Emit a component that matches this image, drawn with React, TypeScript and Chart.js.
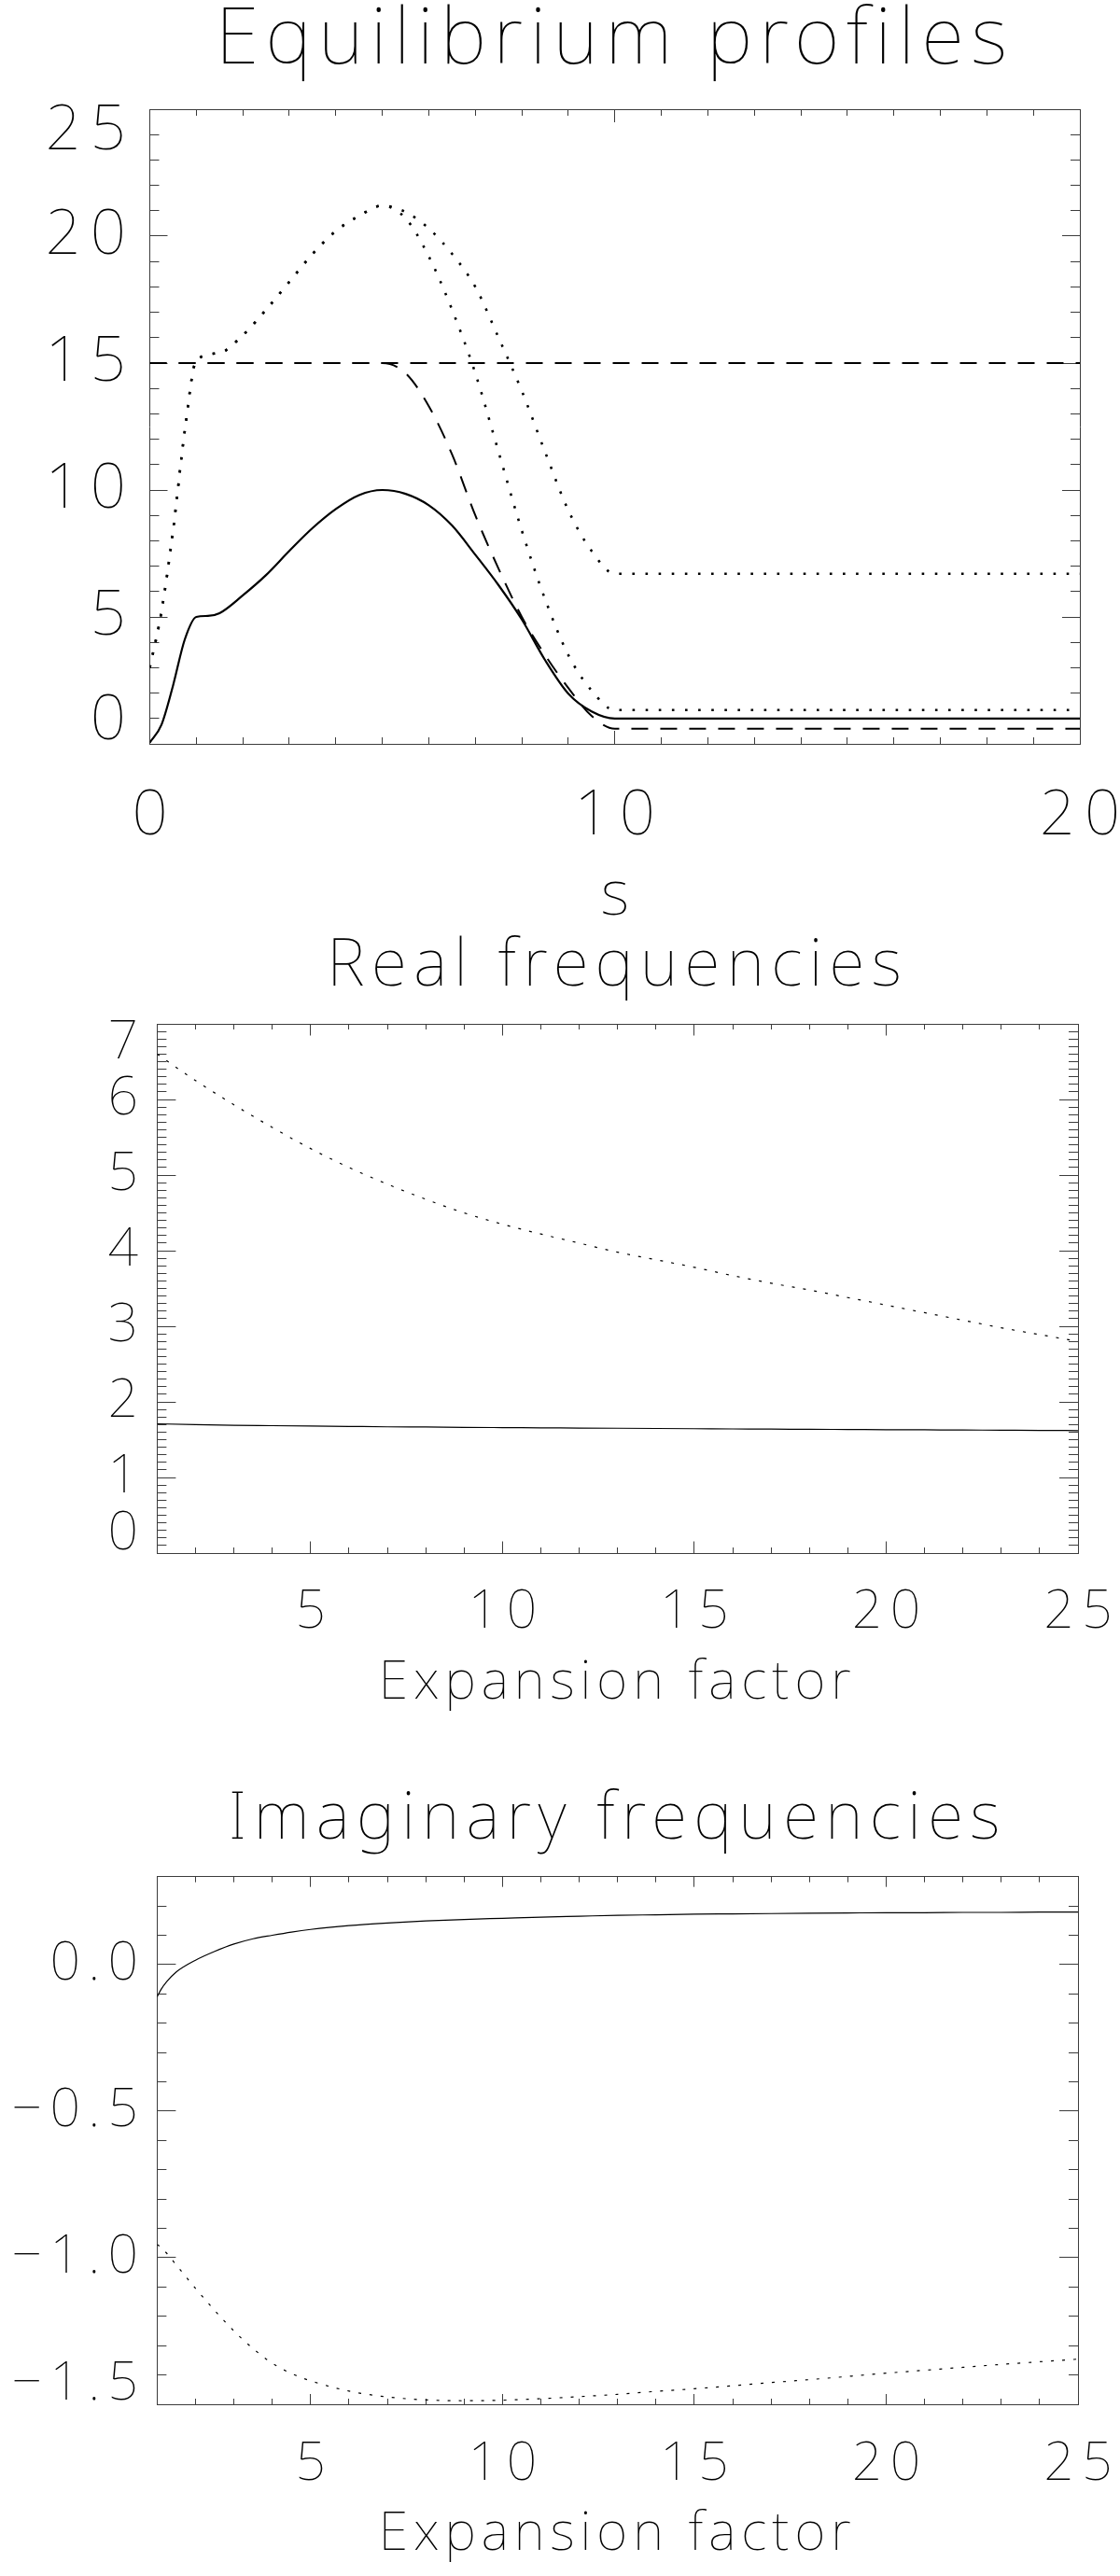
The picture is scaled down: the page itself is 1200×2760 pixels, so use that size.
import React, { useEffect, useRef } from "react";
import { Chart, registerables } from "chart.js";

Chart.register(...registerables);

const FAMILY = "'Noto Sans', Roboto, sans-serif";
const TEXT_WEIGHT = 100;
const FRAME = "#3c3c3c";
const INK = "#000000";

// ---------- Panel 1: Equilibrium profiles ----------
const eqTitle = "Equilibrium profiles";
const eqXTitle = "s";
const eqXTicks = [0, 10, 20];
const eqYTicks = [0, 5, 10, 15, 20, 25];
const eqS = [0, 0.25, 0.5, 0.75, 1, 1.25, 1.5, 2, 2.5, 3, 3.5, 4, 4.5, 5, 5.5, 6, 6.5, 7, 7.5, 8, 8.5, 9, 9.5, 10, 20];
const eqSolid = [0.05, 0.75, 2.3, 4.1, 5.0, 5.04, 5.15, 5.85, 6.65, 7.6, 8.5, 9.25, 9.8, 10.0, 9.85, 9.4, 8.6, 7.45, 6.25, 4.9, 3.3, 1.98, 1.28, 1.0, 1.0];
const eqFlatS = [0, 20];
const eqFlat = [15, 15];
const eqDashS = [0, 5, 5.5, 6, 6.5, 7, 7.5, 8, 8.5, 9, 9.5, 10, 20];
const eqDash = [15, 15, 14.6, 13.3, 11.4, 9.0, 6.9, 5.0, 3.5, 2.2, 1.1, 0.6, 0.6];
const eqDotS = [0, 0.25, 0.5, 0.75, 1, 1.5, 2, 2.5, 3, 3.5, 4, 4.5, 5, 5.5, 6, 6.5, 7, 7.5, 8, 8.5, 9, 9.5, 10, 20];
const eqDotOuter = [3.0, 5.2, 8.4, 12.3, 15.1, 15.4, 16.1, 17.1, 18.2, 19.3, 20.2, 20.8, 21.2, 20.95, 20.3, 19.3, 18.0, 16.0, 13.9, 11.5, 9.2, 7.6, 6.7, 6.7];
const eqDotInner = [3.0, 5.2, 8.4, 12.3, 15.1, 15.4, 16.1, 17.1, 18.2, 19.3, 20.2, 20.8, 21.2, 20.7, 19.2, 17.1, 14.6, 11.5, 8.4, 5.7, 3.5, 2.1, 1.33, 1.33];

// ---------- Panel 2: Real frequencies ----------
const reTitle = "Real frequencies";
const expTitle = "Expansion factor";
const expXTicks = [5, 10, 15, 20, 25];
const reYTicks = [0, 1, 2, 3, 4, 5, 6, 7];
const reX = [1, 2, 3, 4, 5, 6, 7, 8, 9, 10, 11, 12, 13, 14, 15, 16, 17, 18, 19, 20, 21, 22, 23, 24, 25];
const reSolid = [1.71, 1.7, 1.69, 1.685, 1.68, 1.675, 1.67, 1.667, 1.663, 1.66, 1.657, 1.654, 1.651, 1.648, 1.645, 1.642, 1.64, 1.637, 1.635, 1.632, 1.63, 1.628, 1.625, 1.623, 1.62];
const reDotted = [6.6, 6.25, 5.93, 5.63, 5.35, 5.1, 4.88, 4.68, 4.5, 4.35, 4.22, 4.1, 3.98, 3.88, 3.78, 3.67, 3.57, 3.48, 3.38, 3.28, 3.18, 3.08, 2.98, 2.89, 2.8];

// ---------- Panel 3: Imaginary frequencies ----------
const imTitle = "Imaginary frequencies";
const imYTicks = [-1.5, -1.0, -0.5, 0.0];
const imX = [1, 1.1, 1.25, 1.5, 2, 2.5, 3, 3.5, 4, 4.5, 5, 6, 7, 8, 9, 10, 11, 12, 13, 14, 15, 16, 17, 18, 19, 20, 21, 22, 23, 24, 25];
const imSolid = [-0.11, -0.085, -0.058, -0.025, 0.015, 0.045, 0.07, 0.088, 0.1, 0.111, 0.12, 0.133, 0.142, 0.149, 0.154, 0.158, 0.162, 0.165, 0.168, 0.17, 0.172, 0.173, 0.174, 0.175, 0.176, 0.177, 0.177, 0.178, 0.178, 0.179, 0.179];
const imDotted = [-0.955, -0.965, -0.985, -1.025, -1.105, -1.18, -1.25, -1.31, -1.36, -1.395, -1.42, -1.455, -1.475, -1.485, -1.488, -1.486, -1.481, -1.474, -1.466, -1.456, -1.447, -1.437, -1.426, -1.416, -1.405, -1.394, -1.384, -1.374, -1.364, -1.355, -1.346];

const pts = (xs: number[], ys: number[]) => xs.map((x, i) => ({ x, y: ys[i] }));
const near = (a: number, b: number) => Math.abs(a - b) < 1e-6;
const fmtInt = (v: number) => String(Math.round(v));
const fmtOne = (v: number) => {
  if (Math.abs(v) < 1e-9) return "0.0";
  const s = Math.abs(v).toFixed(1);
  return v < 0 ? "\u2212" + s : s;
};

function line(xs: number[], ys: number[], width: number, dash: number[] = []) {
  return {
    data: pts(xs, ys),
    borderColor: INK,
    borderWidth: width,
    borderDash: dash,
    borderCapStyle: "butt",
    pointRadius: 0,
    pointHoverRadius: 0,
    fill: false,
    cubicInterpolationMode: "monotone",
  };
}

type AxisOpts = {
  min: number; max: number; ticks: number[]; minor: number;
  tickMajor: number; tickMinor: number;
  labelSize: number; labelPad: number; area: number;
  fmt: (v: number) => string;
};
type PanelOpts = {
  height: number;
  rightPad: number;
  spacing: { title: number; ticks: number; axisTitle: number };
  title: { text: string; size: number; padTop: number; padBottom: number };
  xTitle: { text: string; size: number; padBottom: number };
  x: AxisOpts;
  y: AxisOpts & { lineHeight: number };
  datasets: any[];
};

// Widens the letter spacing of the library-drawn texts (titles, tick labels, axis titles).
function spacingPlugin(sp: PanelOpts["spacing"]) {
  const wrap = (obj: any, key: string, px: number, ctx: any) => {
    const orig = obj[key].bind(obj);
    obj[key] = (...args: any[]) => {
      const prev = ctx.letterSpacing;
      ctx.letterSpacing = `${px}px`;
      orig(...args);
      ctx.letterSpacing = prev || "0px";
    };
  };
  return {
    id: "letterSpacing",
    beforeDraw(chart: any) {
      const ctx = chart.ctx;
      Object.values(chart.scales).forEach((s: any) => {
        if (s.__spaced) return;
        wrap(s, "drawLabels", sp.ticks, ctx);
        wrap(s, "drawTitle", sp.axisTitle, ctx);
        s.__spaced = true;
      });
      const tb = chart.titleBlock;
      if (tb && !tb.__spaced) {
        wrap(tb, "draw", sp.title, ctx);
        tb.__spaced = true;
      }
    },
  };
}

function buildConfig(p: PanelOpts): any {
  const zero = (s: any) => { s.paddingLeft = 0; s.paddingRight = 0; s.paddingTop = 0; s.paddingBottom = 0; };
  const grid = (len: number) => ({ display: true, drawOnChartArea: false, drawTicks: true, tickLength: -len, color: FRAME, lineWidth: 1 });
  const frame = { display: true, color: FRAME, width: 1 };
  const noBorder = { display: false };
  const font = (size: number, lh = 1) => ({ family: FAMILY, size, weight: TEXT_WEIGHT, lineHeight: lh });
  const xb = { type: "linear", min: p.x.min, max: p.x.max, bounds: "data" };
  const yb = { type: "linear", min: p.y.min, max: p.y.max, bounds: "data" };
  const setTicks = (arr: number[]) => (s: any) => { s.ticks = arr.map((value) => ({ value })); };
  const hiddenTicks = (step: number) => ({ display: false, stepSize: step, includeBounds: false, autoSkip: false });
  const hiddenMajor = { display: false, autoSkip: false };
  return {
    type: "line",
    data: { datasets: p.datasets },
    plugins: [spacingPlugin(p.spacing)],
    options: {
      responsive: false,
      maintainAspectRatio: false,
      animation: false,
      devicePixelRatio: 1,
      events: [],
      layout: { padding: { left: 0, top: 0, right: p.rightPad, bottom: 0 } },
      plugins: {
        legend: { display: false },
        tooltip: { enabled: false },
        title: {
          display: true,
          fullSize: false,
          text: p.title.text,
          color: INK,
          font: font(p.title.size),
          padding: { top: p.title.padTop, bottom: p.title.padBottom },
        },
      },
      scales: {
        x: {
          ...xb, position: "bottom", weight: 1,
          afterBuildTicks: setTicks(p.x.ticks),
          ticks: {
            autoSkip: false, maxRotation: 0, minRotation: 0,
            padding: p.x.labelPad, labelOffset: p.spacing.ticks / 2, color: INK, font: font(p.x.labelSize),
            callback: (v: number) => p.x.fmt(v),
          },
          grid: grid(p.x.tickMajor), border: frame,
          title: { display: true, text: p.xTitle.text, color: INK, font: font(p.xTitle.size), padding: { top: 0, bottom: p.xTitle.padBottom } },
          afterFit: (s: any) => { s.height = p.x.area; zero(s); },
        },
        xMinor: {
          ...xb, position: "bottom", weight: 0,
          ticks: hiddenTicks(p.x.minor), grid: grid(p.x.tickMinor), border: noBorder,
          afterFit: (s: any) => { s.height = 0; zero(s); },
        },
        xTop: {
          ...xb, position: "top", weight: 0,
          afterBuildTicks: setTicks(p.x.ticks),
          ticks: hiddenMajor, grid: grid(p.x.tickMajor), border: frame,
          afterFit: (s: any) => { s.height = 0; zero(s); },
        },
        xTopMinor: {
          ...xb, position: "top", weight: 0,
          ticks: hiddenTicks(p.x.minor), grid: grid(p.x.tickMinor), border: noBorder,
          afterFit: (s: any) => { s.height = 0; zero(s); },
        },
        y: {
          ...yb, position: "left", weight: 1,
          afterBuildTicks: setTicks(p.y.ticks),
          ticks: {
            autoSkip: false,
            padding: p.y.labelPad, color: INK, font: font(p.y.labelSize, p.y.lineHeight),
            callback: (v: number) => {
              const s = p.y.fmt(v);
              if (near(v, p.y.max)) return ["", s];
              if (near(v, p.y.min)) return [s, ""];
              return s;
            },
          },
          grid: grid(p.y.tickMajor), border: frame,
          afterFit: (s: any) => { s.width = p.y.area; zero(s); },
        },
        yMinor: {
          ...yb, position: "left", weight: 0,
          ticks: hiddenTicks(p.y.minor), grid: grid(p.y.tickMinor), border: noBorder,
          afterFit: (s: any) => { s.width = 0; zero(s); },
        },
        yRight: {
          ...yb, position: "right", weight: 0,
          afterBuildTicks: setTicks(p.y.ticks),
          ticks: hiddenMajor, grid: grid(p.y.tickMajor), border: frame,
          afterFit: (s: any) => { s.width = 0; zero(s); },
        },
        yRightMinor: {
          ...yb, position: "right", weight: 0,
          ticks: hiddenTicks(p.y.minor), grid: grid(p.y.tickMinor), border: noBorder,
          afterFit: (s: any) => { s.width = 0; zero(s); },
        },
      },
    },
  };
}

const panel1 = (): PanelOpts => ({
  height: 1000,
  rightPad: 43,
  spacing: { title: 7.6, ticks: 10, axisTitle: 0 },
  title: { text: eqTitle, size: 84, padTop: 2.4, padBottom: 30.6 },
  xTitle: { text: eqXTitle, size: 66, padBottom: 5.6 },
  x: { min: 0, max: 20, ticks: eqXTicks, minor: 1, tickMajor: 14, tickMinor: 7, labelSize: 67, labelPad: 58.5, area: 203, fmt: fmtInt },
  y: { min: 0, max: 25, ticks: eqYTicks, minor: 1, tickMajor: 19, tickMinor: 10, labelSize: 67, labelPad: 34.5, area: 160.5, fmt: fmtInt, lineHeight: 0.716 },
  datasets: [
    line(eqFlatS, eqFlat, 2, [18, 13]),
    line(eqDashS, eqDash, 2, [18, 13]),
    line(eqDotS, eqDotOuter, 2.6, [2.6, 11.5]),
    line(eqDotS, eqDotInner, 2.6, [2.6, 11.5]),
    line(eqS, eqSolid, 2.2),
  ],
});

const panel2 = (): PanelOpts => ({
  height: 860,
  rightPad: 45,
  spacing: { title: 7.4, ticks: 8.5, axisTitle: 6 },
  title: { text: reTitle, size: 70, padTop: 0.8, padBottom: 26.2 },
  xTitle: { text: expTitle, size: 57, padBottom: 27.6 },
  x: { min: 1, max: 25, ticks: expXTicks, minor: 1, tickMajor: 12.5, tickMinor: 6, labelSize: 57, labelPad: 47.7, area: 196, fmt: fmtInt },
  y: { min: 0, max: 7, ticks: reYTicks, minor: 0.1, tickMajor: 20, tickMinor: 10, labelSize: 57, labelPad: 31.8, area: 168.4, fmt: fmtInt, lineHeight: 0.72 },
  datasets: [
    line(reX, reDotted, 1.2, [3, 9]),
    line(reX, reSolid, 1.2),
  ],
});

const panel3 = (): PanelOpts => ({
  height: 890,
  rightPad: 45,
  spacing: { title: 7.4, ticks: 8.5, axisTitle: 6 },
  title: { text: imTitle, size: 70, padTop: 44.8, padBottom: 25.9 },
  xTitle: { text: expTitle, size: 57, padBottom: 15.6 },
  x: { min: 1, max: 25, ticks: expXTicks, minor: 1, tickMajor: 11, tickMinor: 6, labelSize: 57, labelPad: 47.2, area: 184, fmt: fmtInt },
  y: { min: -1.5, max: 0.3, ticks: imYTicks, minor: 0.1, tickMajor: 20, tickMinor: 10, labelSize: 57, labelPad: 31.8, area: 168.4, fmt: fmtOne, lineHeight: 0.73 },
  datasets: [
    line(imX, imDotted, 1.2, [3, 9]),
    line(imX, imSolid, 1.2),
  ],
});

function Panel({ make, top }: { make: () => PanelOpts; top: number }) {
  const ref = useRef<HTMLCanvasElement | null>(null);
  const opts = make();
  useEffect(() => {
    if (!ref.current) return;
    const chart = new Chart(ref.current, buildConfig(make()));
    return () => chart.destroy();
  }, []);
  return (
    <canvas
      ref={ref}
      width={1200}
      height={opts.height}
      style={{ position: "absolute", left: 0, top, width: 1200, height: opts.height, display: "block" }}
    />
  );
}

export default function App() {
  return (
    <div style={{ position: "absolute", left: 0, top: 0, width: 1200, height: 2760, background: "#fff", overflow: "hidden" }}>
      <Panel make={panel1} top={0} />
      <Panel make={panel2} top={1000} />
      <Panel make={panel3} top={1870} />
    </div>
  );
}
